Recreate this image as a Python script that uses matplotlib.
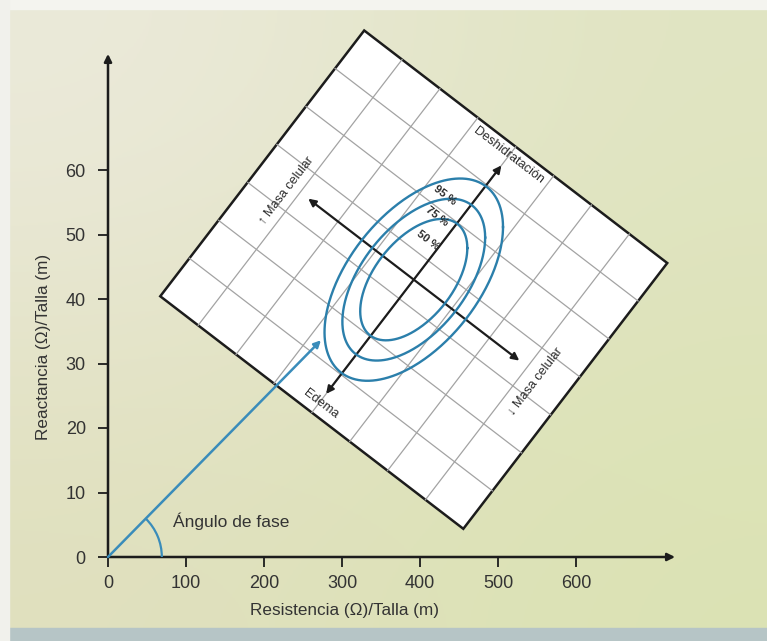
import numpy as np
import matplotlib
matplotlib.use('Agg')
import matplotlib.pyplot as plt
from matplotlib.patches import Arc, Rectangle
from matplotlib.transforms import Affine2D

plt.rcParams['font.family'] = ['Liberation Sans Narrow', 'Liberation Sans', 'DejaVu Sans']

# --- values: R/H and Xc/H (ohm/m) ---
x_ticks = [0, 100, 200, 300, 400, 500, 600]
y_ticks = [0, 10, 20, 30, 40, 50, 60]
x_axis_end = 727
y_axis_end = 78

# impedance vector of the subject
vector_R = 273
vector_Xc = 33.6
arc_R = 69  # phase-angle arc meets the R axis here

# reference population (tolerance ellipses)
mean_R = 392
mean_Xc = 43
sd_R = 46.7
sd_Xc = 6.4
corr_RXc = 0.52
ellipse_labels = ['50 %', '75 %', '95 %']
ellipse_k = [1.47, 1.96, 2.45]

# --- figure layout (pixels of the 767x641 page) ---
W, H = 767, 641
fig = plt.figure(figsize=(W / 100, H / 100), dpi=100)

# paper background
bg = fig.add_axes([0, 0, 1, 1], zorder=-1)
grad = np.array([[[0.925, 0.918, 0.860], [0.880, 0.895, 0.760]],
                 [[0.878, 0.878, 0.745], [0.860, 0.890, 0.705]]])
bg.imshow(grad, extent=[0, 1, 0, 1], aspect='auto', interpolation='bicubic')
bg.add_patch(Rectangle((0, 0), 1, 13 / H, color='#b6c5c6'))
bg.add_patch(Rectangle((0, 1 - 9 / H), 1, 9 / H, color='#f4f4ef'))
bg.add_patch(Rectangle((0, 0), 9 / W, 1, color='#f1f1ec'))
bg.set_xlim(0, 1)
bg.set_ylim(0, 1)
bg.axis('off')

ax = fig.add_axes([0, 0, 1, 1])
ax.set_facecolor('none')
x0_px, y0_px = 108, 557          # origin on the page
px_x, px_y = 0.78, 6.45          # pixels per unit on each axis
ax.set_xlim(-x0_px / px_x, (W - x0_px) / px_x)
ax.set_ylim(-(H - y0_px) / px_y, y0_px / px_y)

ink = '#1c1c1c'
blue = '#2b7fab'
grey_txt = '#333333'

for s in ax.spines.values():
    s.set_visible(False)
ax.spines['left'].set_position(('data', 0))
ax.spines['bottom'].set_position(('data', 0))
ax.set_xticks(x_ticks)
ax.set_yticks(y_ticks)
ax.tick_params(axis='x', direction='out', length=7, width=1.3, labelsize=13,
               pad=6, colors=ink, labelcolor=grey_txt)
ax.tick_params(axis='y', direction='out', length=7, width=1.3, labelsize=13,
               pad=9, colors=ink, labelcolor=grey_txt)

# axes with arrow heads
ax.annotate('', xy=(x_axis_end, 0), xytext=(0, 0),
            arrowprops=dict(arrowstyle='-|>', color=ink, lw=1.8, mutation_scale=11,
                            shrinkA=0, shrinkB=0))
ax.annotate('', xy=(0, y_axis_end), xytext=(0, 0),
            arrowprops=dict(arrowstyle='-|>', color=ink, lw=1.8, mutation_scale=11,
                            shrinkA=0, shrinkB=0))

ax.set_xlabel('Resistencia (Ω)/Talla (m)', fontsize=12.3, color=grey_txt)
ax.xaxis.label.set_verticalalignment('center')
ax.xaxis.set_label_coords(344 / W, 1 - 610 / H)
ax.set_ylabel('Reactancia (Ω)/Talla (m)', fontsize=12.3, color=grey_txt)
ax.yaxis.label.set_verticalalignment('center')
ax.yaxis.set_label_coords(44 / W, 1 - 347 / H)

# rotated frame around the reference mean, in page pixels
frame = Affine2D().rotate_deg(-37.5).scale(1 / px_x, 1 / px_y).translate(mean_R, mean_Xc) + ax.transData
half_u, half_v = 191, 167.5
n_u, n_v = 8, 7
ax.add_patch(Rectangle((-half_u, -half_v), 2 * half_u, 2 * half_v, transform=frame,
                       facecolor='white', edgecolor=ink, lw=1.8, zorder=2))
for i in range(1, n_u):
    u = -half_u + i * 2 * half_u / n_u
    ax.plot([u, u], [-half_v, half_v], transform=frame, color='#a3a3a3', lw=0.9, zorder=2.1)
for j in range(1, n_v):
    v = -half_v + j * 2 * half_v / n_v
    ax.plot([-half_u, half_u], [v, v], transform=frame, color='#a3a3a3', lw=0.9, zorder=2.1)

ax.annotate('', xy=(0, 144), xytext=(0, -144), xycoords=frame, textcoords=frame,
            arrowprops=dict(arrowstyle='<|-|>', color=ink, lw=1.6, mutation_scale=11,
                            shrinkA=0, shrinkB=0), zorder=3)
ax.annotate('', xy=(133, 0), xytext=(-133, 0), xycoords=frame, textcoords=frame,
            arrowprops=dict(arrowstyle='<|-|>', color=ink, lw=1.6, mutation_scale=11,
                            shrinkA=0, shrinkB=0), zorder=3)

txt = dict(transform=frame, ha='center', va='center', rotation_mode='anchor',
           color='#2a2a2a', zorder=4)
ax.text(0, 156, 'Deshidratación', rotation=-37.5, fontsize=9.2, **txt)
ax.text(2, -155, 'Edema', rotation=-37.5, fontsize=9.2, **txt)
ax.text(-156, -7, '↑ Masa celular', rotation=52.5, fontsize=9.2,
        family=['Liberation Sans Narrow', 'Liberation Sans', 'DejaVu Sans'], **txt)
ax.text(158, -7, '↓ Masa celular', rotation=52.5, fontsize=9.2,
        family=['Liberation Sans Narrow', 'Liberation Sans', 'DejaVu Sans'], **txt)

# tolerance ellipses
cov = np.array([[sd_R ** 2, corr_RXc * sd_R * sd_Xc],
                [corr_RXc * sd_R * sd_Xc, sd_Xc ** 2]])
L = np.linalg.cholesky(cov)
t = np.linspace(0, 2 * np.pi, 400)
circle = np.vstack([np.cos(t), np.sin(t)])
for k in ellipse_k:
    pts = k * (L @ circle)
    ax.plot(mean_R + pts[0], mean_Xc + pts[1], color=blue, lw=1.7, zorder=3.5)

label_pos = [(-12.5, 40), (-20.5, 64.5), (-27, 86)]
for lab, (u, v) in zip(ellipse_labels, label_pos):
    ax.text(u, v, lab, rotation=-37.5, fontsize=8, fontweight='bold', **txt)

# impedance vector and phase angle
ax.annotate('', xy=(vector_R, vector_Xc), xytext=(0, 0),
            arrowprops=dict(arrowstyle='-|>', color='#3a8cba', lw=1.8, mutation_scale=10,
                            shrinkA=0, shrinkB=0), zorder=5)
phase = np.degrees(np.arctan2(vector_Xc, vector_R))
ax.add_patch(Arc((0, 0), 2 * arc_R, 2 * arc_R * px_x / px_y, theta1=0, theta2=phase,
                 color='#3a8cba', lw=1.6, zorder=5))
ax.text(83, 5.6, 'Ángulo de fase', fontsize=12.5, color=grey_txt, ha='left', va='center')

fig.savefig('out.png', dpi=100)
